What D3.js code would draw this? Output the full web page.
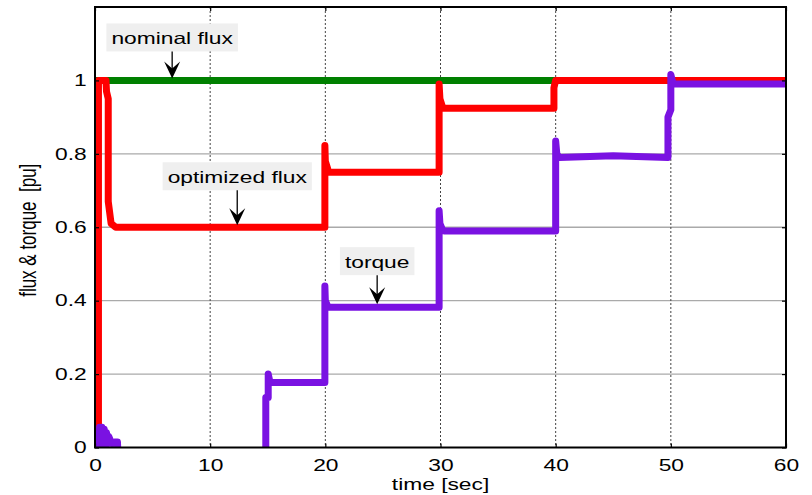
<!DOCTYPE html>
<html>
<head>
<meta charset="utf-8">
<script src="https://cdn.jsdelivr.net/npm/d3@7"></script>
<style>
  body { margin: 0; background: #fff; }
  text { font-family: "Liberation Sans", Arial, sans-serif; fill: #000; }
</style>
</head>
<body>
<div id="chart"></div>
<script>
// axis ticks
var xTicks = [0, 10, 20, 30, 40, 50, 60];
var yTicks = [0, 0.2, 0.4, 0.6, 0.8, 1];

// nominal flux
var nominalT = [0, 60];
var nominalV = [1, 1];

// optimized flux
var optT = [0.3, 0.3, 0.95, 1.0, 1.15, 1.15, 1.4, 1.8, 19.96, 19.96, 20.0, 20.2, 20.25, 29.88, 29.88, 29.95, 30.15, 30.3, 39.85, 39.85, 40.0, 60];
var optV = [-0.05, 1.0, 1.0, 0.97, 0.95, 0.67, 0.61, 0.6, 0.6, 0.823, 0.78, 0.76, 0.75, 0.75, 0.99, 0.95, 0.93, 0.924, 0.924, 0.98, 1.0, 1.0];

// torque (null = gap)
var torqueT = [0.35, 0.4, 0.55, 0.6, 0.75, 0.8, 0.95, 1.0, 1.15, 1.2, 1.4, 1.5, 1.7, 1.95, 2.0, 8,
  14.83, 14.83, 15.04, 15.04, 15.2, 19.96, 19.96, 20.0, 20.2, 20.3, 29.88, 29.88, 29.95, 30.15, 30.3,
  40.0, 40.0, 40.1, 40.3, 45.0, 49.75, 49.75, 50.0, 50.0, 50.2, 60];
var torqueV = [-0.02, 0.055, 0.01, 0.055, 0.01, 0.05, 0.01, 0.04, 0.01, 0.03, 0.015, 0.01, 0.015, 0.015, -0.02, null,
  -0.05, 0.136, 0.136, 0.2, 0.177, 0.177, 0.44, 0.4, 0.385, 0.382, 0.382, 0.645, 0.61, 0.595, 0.59,
  0.59, 0.835, 0.8, 0.79, 0.795, 0.79, 0.9, 0.92, 1.016, 0.99, 0.99];

// annotations
var noteLabels = ["nominal flux", "optimized flux", "torque"];
var noteT = [6.7, 12.35, 24.5];
var noteV = [1.0, 0.6, 0.385];

var width = 812, height = 495;
var margin = {top: 7, right: 26, bottom: 47.5, left: 95};
var inW = width - margin.left - margin.right;
var inH = height - margin.top - margin.bottom;
var SX = 1.38; // horizontal stretch of the original figure's text

var svg = d3.select("#chart").append("svg")
  .attr("width", width)
  .attr("height", height);
var g = svg.append("g")
  .attr("transform", `translate(${margin.left},${margin.top})`);

var x = d3.scaleLinear().domain([0, 60]).range([0, inW]);
var y = d3.scaleLinear().domain([0, 1.2]).range([inH, 0]);

// grid
g.append("g").selectAll("line")
  .data(yTicks.filter(d => d > 0))
  .enter().append("line")
    .attr("x1", 0).attr("x2", inW)
    .attr("y1", d => y(d)).attr("y2", d => y(d))
    .attr("stroke", "#aaa").attr("stroke-width", 1.3);
g.append("g").selectAll("line")
  .data(xTicks.filter(d => d > 0 && d < 60))
  .enter().append("line")
    .attr("x1", d => x(d)).attr("x2", d => x(d))
    .attr("y1", 0).attr("y2", inH)
    .attr("stroke", "#444").attr("stroke-width", 1)
    .attr("stroke-dasharray", "2,2");

// clip
svg.append("defs").append("clipPath").attr("id", "clip")
  .append("rect").attr("width", inW).attr("height", inH);

var plot = g.append("g").attr("clip-path", "url(#clip)");

function series(ts, vs) {
  return ts.map((t, i) => ({t: t, v: vs[i]}));
}
var line = d3.line()
  .defined(d => d.v !== null)
  .x(d => x(d.t))
  .y(d => y(d.v));

[[nominalT, nominalV, "#008000"], [optT, optV, "#ff0000"], [torqueT, torqueV, "#7a12e2"]]
  .forEach(function(s) {
    plot.append("path")
      .datum(series(s[0], s[1]))
      .attr("d", line)
      .attr("fill", "none")
      .attr("stroke", s[2])
      .attr("stroke-width", 7)
      .attr("stroke-linecap", "round")
      .attr("stroke-linejoin", "round");
  });

// axes
var xAxis = g.append("g")
  .attr("transform", `translate(0,${inH})`)
  .call(d3.axisBottom(x).tickValues(xTicks).tickSizeInner(-4).tickSizeOuter(0).tickPadding(12));
var yAxis = g.append("g")
  .call(d3.axisLeft(y).tickValues(yTicks).tickSizeInner(-4).tickSizeOuter(0).tickPadding(0)
    .tickFormat(d3.format("")));
g.append("g").call(d3.axisTop(x).tickValues(xTicks).tickSizeInner(-4).tickSizeOuter(0).tickFormat(""));
g.append("g").attr("transform", `translate(${inW},0)`)
  .call(d3.axisRight(y).tickValues(yTicks).tickSizeInner(-4).tickSizeOuter(0).tickFormat(""));

g.selectAll(".domain").remove();
g.selectAll(".tick line").attr("stroke", "#000").attr("stroke-width", 1.2);
xAxis.selectAll("text")
  .style("font-size", "16.5px")
  .attr("transform", `scale(${SX},1)`);
yAxis.selectAll("text")
  .style("font-size", "16.5px")
  .attr("x", -6)
  .attr("transform", `scale(${SX},1)`);

// frame
g.append("rect")
  .attr("width", inW).attr("height", inH)
  .attr("fill", "none").attr("stroke", "#000").attr("stroke-width", 2);

// axis labels
svg.append("text")
  .attr("transform", `translate(${margin.left + inW / 2},${height - 5}) scale(${SX},1)`)
  .attr("text-anchor", "middle")
  .style("font-size", "16.5px")
  .text("time [sec]");
svg.append("text")
  .attr("transform", `translate(36,${margin.top + inH / 2 + 3}) scale(${SX},1) rotate(-90)`)
  .attr("text-anchor", "middle")
  .style("font-size", "17px")
  .style("white-space", "pre")
  .text("flux & torque  [pu]");

// annotations
var lift = [27, 35, 29];
noteLabels.forEach(function(label, i) {
  var tx = x(noteT[i]), ty = y(noteV[i]) - 2;
  var boxBottom = ty - lift[i];
  var ann = g.append("g");
  var box = ann.append("rect").attr("fill", "#efefef");
  var txt = ann.append("text")
    .attr("transform", `translate(${tx},${boxBottom - 7}) scale(${SX},1)`)
    .attr("text-anchor", "middle")
    .style("font-size", "16.5px")
    .text(label);
  var w = txt.node().getBBox().width * SX + 10;
  box.attr("x", tx - w / 2).attr("y", boxBottom - 28)
    .attr("width", w).attr("height", 28);
  ann.append("line")
    .attr("x1", tx).attr("x2", tx)
    .attr("y1", boxBottom).attr("y2", ty - 8)
    .attr("stroke", "#000").attr("stroke-width", 1.3);
  ann.append("path")
    .attr("d", `M${tx},${ty} L${tx - 8},${ty - 17} L${tx},${ty - 10} L${tx + 8},${ty - 17} Z`)
    .attr("fill", "#000");
});
</script>
</body>
</html>
